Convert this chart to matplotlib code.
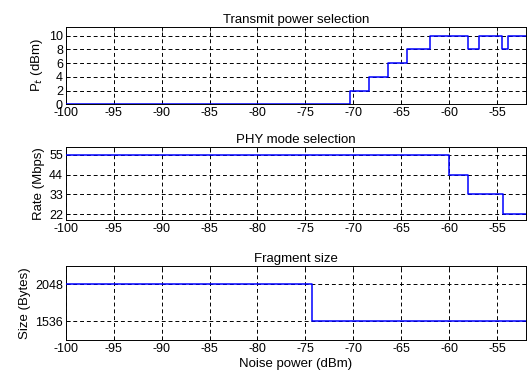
import matplotlib.pyplot as plt
import numpy as np

plt.rcParams["font.family"] = ["Liberation Sans", "DejaVu Sans"]
plt.rcParams["font.size"] = 9
plt.rcParams["axes.unicode_minus"] = False

# noise power breakpoints (dBm) and the value held from each breakpoint on
pt_x = [-100, -70.4, -68.4, -66.4, -64.4, -62.0, -58.0, -56.9, -54.5, -53.9]
pt_y = [0, 2, 4, 6, 8, 10, 8, 10, 8, 10]

rate_x = [-100, -60.0, -58.0, -54.4]
rate_y = [55, 44, 33, 22]

frag_x = [-100, -74.3]
frag_y = [2048, 1536]

x_end = -52
xticks = [-100, -95, -90, -85, -80, -75, -70, -65, -60, -55]

fig = plt.figure(figsize=(5.28, 3.74), dpi=100)
left, width = 0.1244, 0.8718
ax1 = fig.add_axes([left, 0.721, width, 0.2075])
ax2 = fig.add_axes([left, 0.4118, width, 0.196])
ax3 = fig.add_axes([left, 0.0909, width, 0.1987])


def draw(ax, xs, ys, title, ylabel, yticks, ylim):
    ax.step(list(xs) + [x_end], list(ys) + [ys[-1]], where="post",
            color="#0000ff", lw=1.1, zorder=3)
    ax.set_xlim(-100, x_end)
    ax.set_ylim(*ylim)
    ax.set_xticks(xticks)
    ax.set_yticks(yticks)
    ax.set_title(title, fontsize=9.5, pad=3)
    ax.set_ylabel(ylabel, fontsize=9.5, labelpad=3)
    ax.grid(True, color="black", linestyle=(0, (4, 3)), lw=0.7)
    ax.tick_params(direction="in", length=3, width=0.6, top=True, right=True,
                   labelsize=9, pad=2)
    for s in ax.spines.values():
        s.set_linewidth(0.7)


draw(ax1, pt_x, pt_y, "Transmit power selection", "P$_t$ (dBm)",
     [0, 2, 4, 6, 8, 10], (0, 11.3))
draw(ax2, rate_x, rate_y, "PHY mode selection", "Rate (Mbps)",
     [22, 33, 44, 55], (18.7, 59.6))
draw(ax3, frag_x, frag_y, "Fragment size", "Size (Bytes)",
     [1536, 2048], (1280, 2304))
ax3.set_xlabel("Noise power (dBm)", fontsize=9.5, labelpad=2)

plt.savefig("out.png", dpi=100)
plt.close()
